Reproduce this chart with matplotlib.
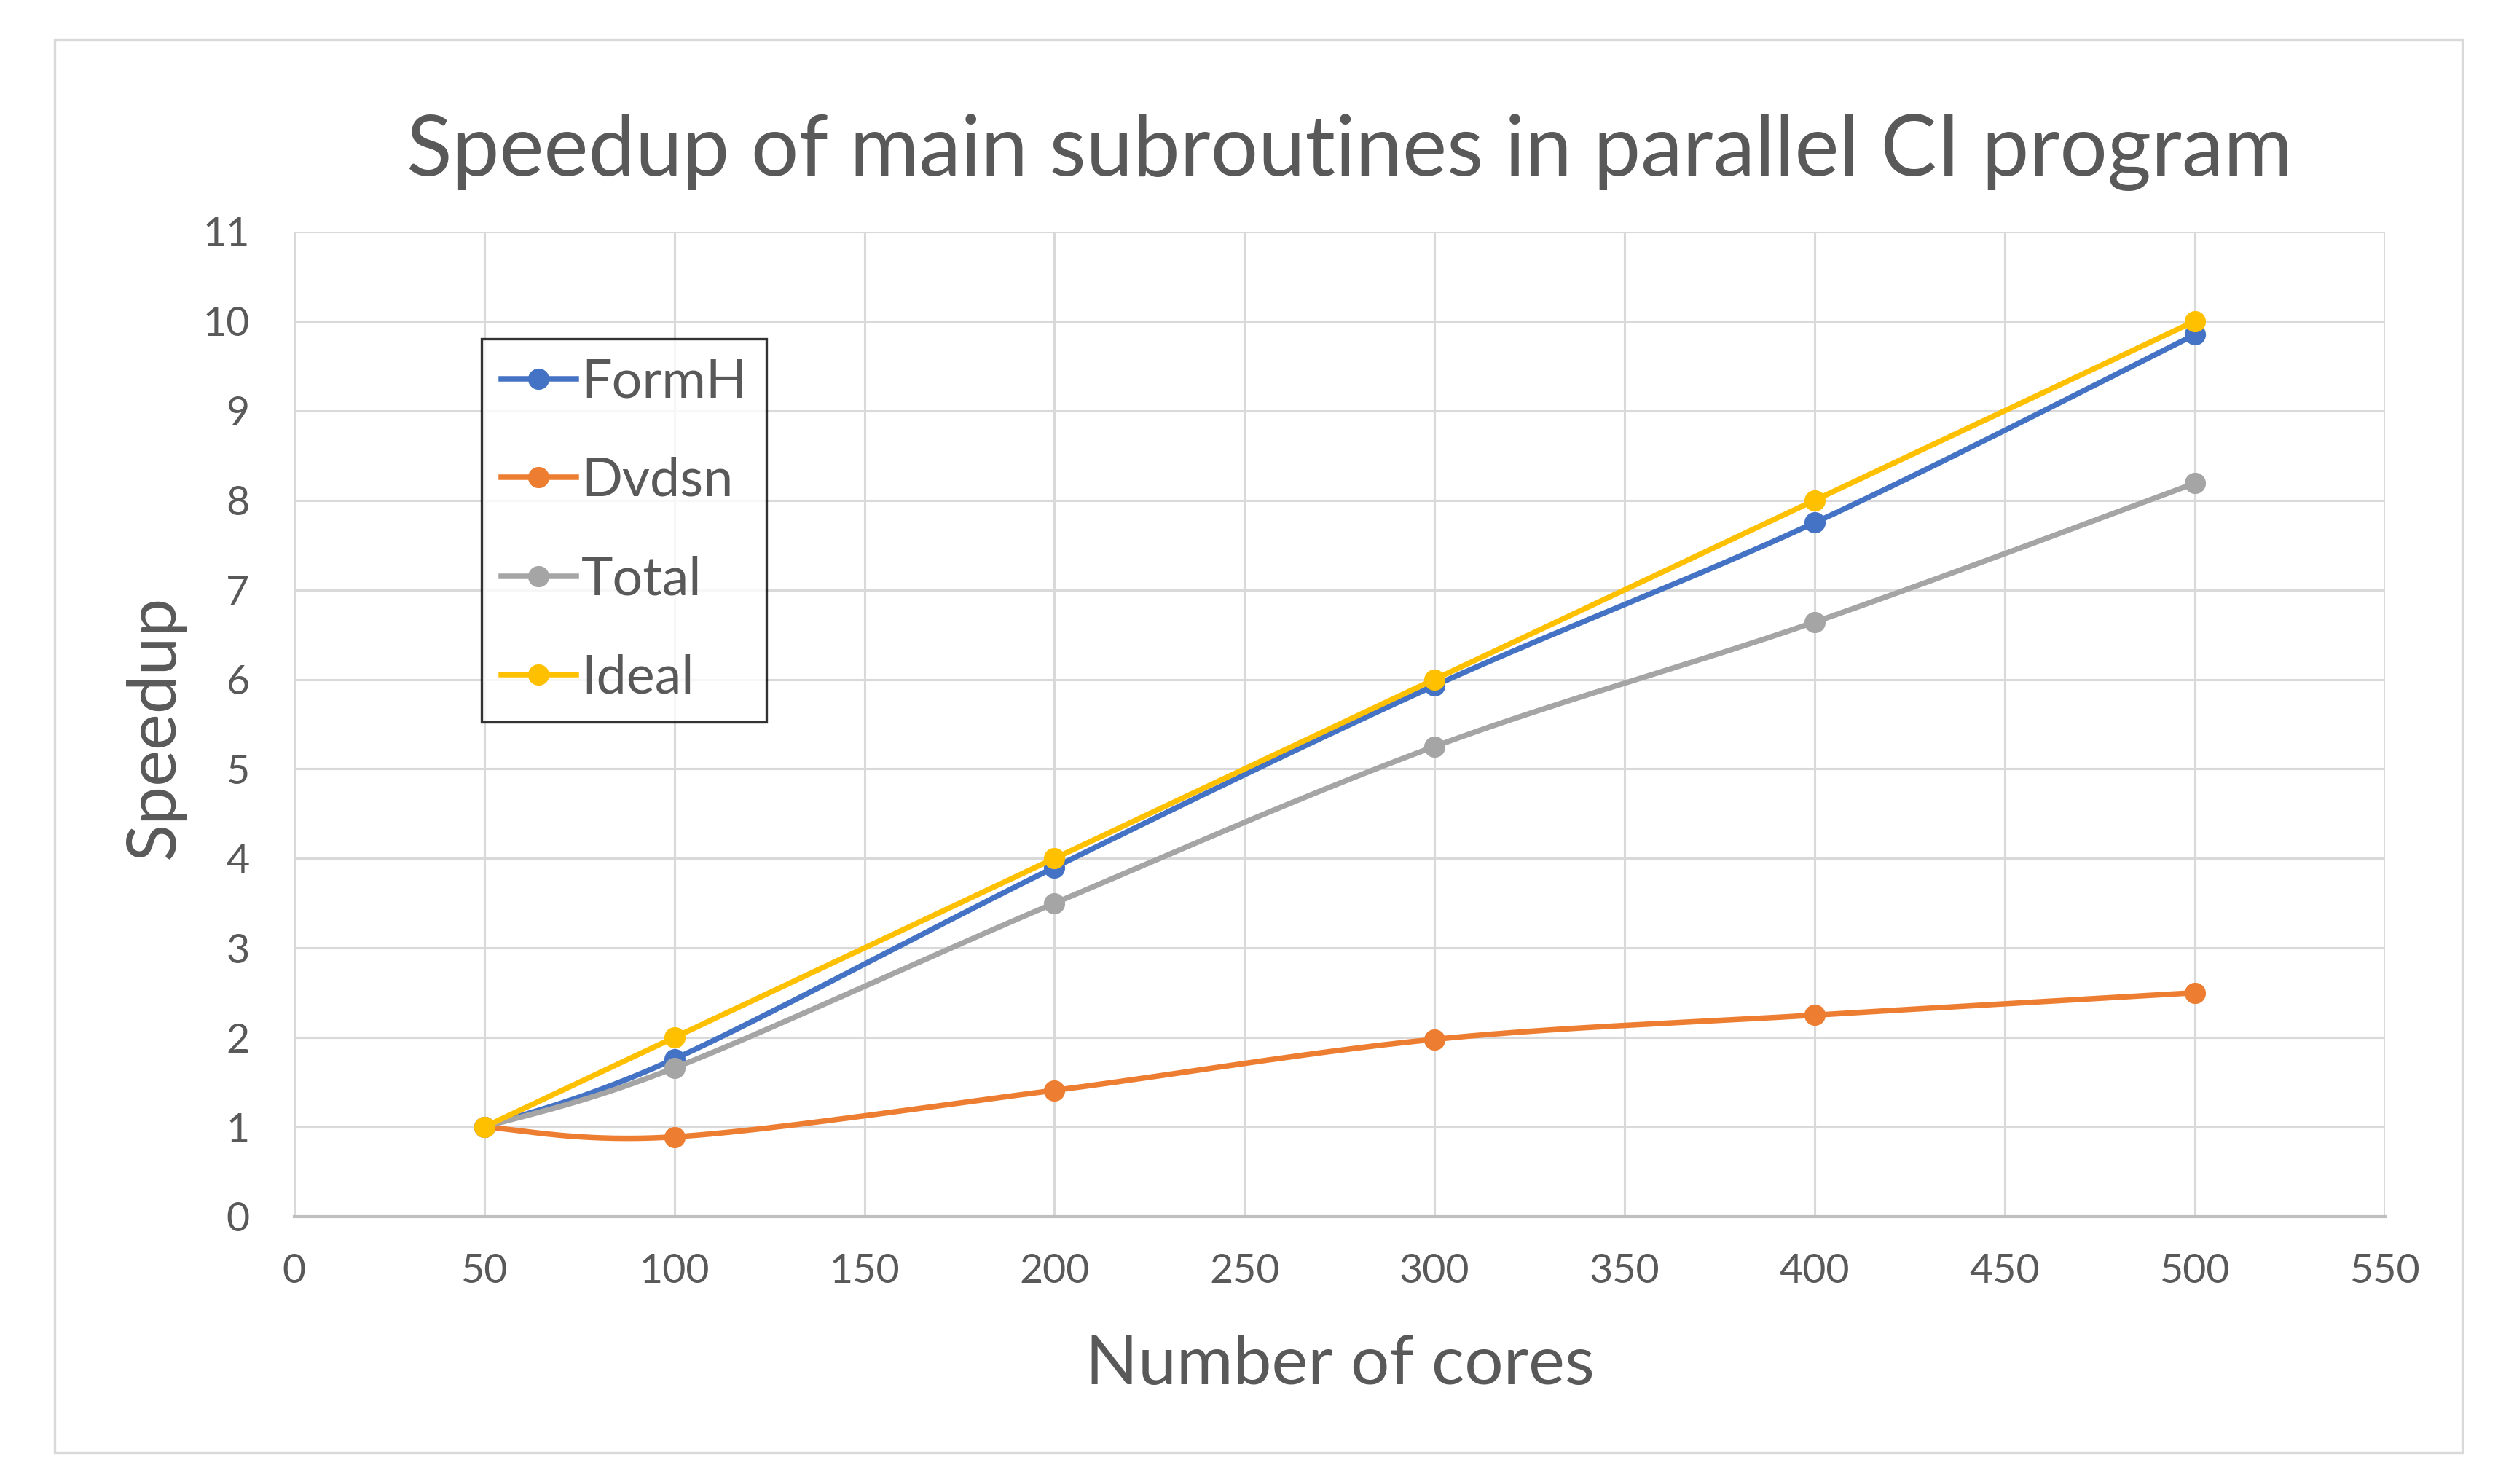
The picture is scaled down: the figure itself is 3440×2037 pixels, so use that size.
import numpy as np
import matplotlib
matplotlib.use("Agg")
import matplotlib.pyplot as plt
from matplotlib.patches import Rectangle

plt.rcParams['font.family'] = ['Lato', 'DejaVu Sans']

cores = [50, 100, 200, 300, 400, 500]
formh = [1.0, 1.76, 3.9, 5.93, 7.75, 9.85]
dvdsn = [1.0, 0.89, 1.41, 1.98, 2.25, 2.5]
total = [1.0, 1.66, 3.5, 5.25, 6.64, 8.19]
ideal = [1.0, 2.0, 4.0, 6.0, 8.0, 10.0]

series = [
    ("FormH", formh, "#4472C4"),
    ("Dvdsn", dvdsn, "#ED7D31"),
    ("Total", total, "#A5A5A5"),
    ("Ideal", ideal, "#FFC000"),
]

text_col = "#595959"
grid_col = "#D9D9D9"


def smooth(xs, ys, n=40):
    # Excel-style smoothed line: cubic bezier, control points from neighbours / 6
    p = np.column_stack([xs, ys]).astype(float)
    pts = []
    for i in range(len(p) - 1):
        p0 = p[i - 1] if i > 0 else p[i]
        p1, p2 = p[i], p[i + 1]
        p3 = p[i + 2] if i + 2 < len(p) else p[i + 1]
        c1 = p1 + (p2 - p0) / 6
        c2 = p2 - (p3 - p1) / 6
        t = np.linspace(0, 1, n)[:, None]
        seg = ((1 - t) ** 3) * p1 + 3 * ((1 - t) ** 2) * t * c1 + 3 * (1 - t) * t ** 2 * c2 + t ** 3 * p2
        pts.append(seg if i == 0 else seg[1:])
    pts = np.vstack(pts)
    return pts[:, 0], pts[:, 1]


fig = plt.figure(figsize=(17.2, 10.185), dpi=200)
ax = fig.add_axes([0.1174, 0.1802, 0.9517 - 0.1174, 0.8439 - 0.1802])

lw, ms = 2.7, 10.5
for name, vals, col in series:
    sx, sy = smooth(cores, vals)
    ax.plot(sx, sy, color=col, lw=lw, solid_capstyle='round')
    ax.plot(cores, vals, 'o', color=col, ms=ms, mew=0)
    ax.plot([], [], '-o', color=col, lw=lw, ms=ms, mew=0, label=name)

ax.set_xlim(0, 550)
ax.set_ylim(0, 11)
ax.set_xticks(np.arange(0, 551, 50))
ax.set_yticks(np.arange(0, 12, 1))
ax.grid(True, color=grid_col, lw=1.1)
ax.set_axisbelow(True)
for s in ['left', 'right', 'top']:
    ax.spines[s].set_visible(False)
ax.spines['bottom'].set_color("#BFBFBF")
ax.spines['bottom'].set_linewidth(1.5)
ax.tick_params(length=0, labelsize=20, colors=text_col)
ax.tick_params(axis='y', pad=22)
ax.tick_params(axis='x', pad=18)

fig.text(0.5387, 0.8817, "Speedup of main subroutines in parallel CI program",
         ha='center', va='baseline', fontsize=41.6, color=text_col)
fig.text(0.5346, 0.0673, "Number of cores", ha='center', va='baseline',
         fontsize=34, color=text_col)
fig.text(0.062, 0.51, "Speedup", ha='center', va='center', rotation=90,
         fontsize=34, color=text_col)

leg = ax.legend(loc='upper left', bbox_to_anchor=(661 / 3440, 1 - 465 / 2037),
                bbox_transform=fig.transFigure, fontsize=26.5, frameon=True,
                fancybox=False, edgecolor='black', borderpad=0.36,
                labelspacing=0.93, handlelength=1.4, handletextpad=0.1,
                borderaxespad=0)
leg.get_frame().set_linewidth(1.2)
for t in leg.get_texts():
    t.set_color(text_col)

fig.patches.append(Rectangle((0.0218, 0.0211), 0.9826 - 0.0218, 0.9735 - 0.0211,
                             transform=fig.transFigure, fill=False,
                             edgecolor=grid_col, lw=1.2))

fig.savefig("out.png", dpi=200)
